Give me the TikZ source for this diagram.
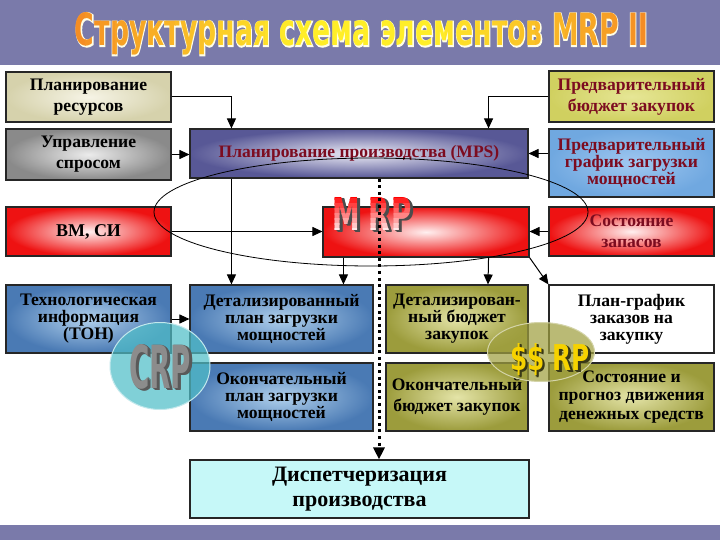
\documentclass[tikz,border=0pt]{standalone}
\usepackage{fontspec}
\setmainfont{Liberation Serif}
\newfontfamily\heavyf{DejaVu Sans}
\newfontfamily\heavyo{DejaVu Sans}[FakeBold=5]
\usetikzlibrary{arrows.meta,calc,shapes.geometric}
\definecolor{band}{RGB}{122,122,170}
\definecolor{dred}{RGB}{124,12,32}
\definecolor{org}{RGB}{244,140,36}
\definecolor{yel}{RGB}{255,238,40}
\definecolor{beigeo}{RGB}{214,210,172}
\definecolor{beigei}{RGB}{246,244,230}
\definecolor{grayo}{RGB}{138,138,138}
\definecolor{grayi}{RGB}{236,236,236}
\definecolor{mpso}{RGB}{88,88,150}
\definecolor{mpsi}{RGB}{236,236,246}
\definecolor{redo}{RGB}{238,18,18}
\definecolor{redi}{RGB}{255,240,240}
\definecolor{yello}{RGB}{208,208,96}
\definecolor{yelli}{RGB}{230,230,150}
\definecolor{blueo}{RGB}{112,168,224}
\definecolor{bluei}{RGB}{160,200,240}
\definecolor{steelo}{RGB}{74,122,180}
\definecolor{steeli}{RGB}{176,208,236}
\definecolor{oliveo}{RGB}{156,156,60}
\definecolor{olivei}{RGB}{228,228,168}
\definecolor{cyanf}{RGB}{198,248,248}
\definecolor{crpf}{RGB}{80,190,200}
\definecolor{ssf}{RGB}{160,160,64}
\definecolor{ssy}{RGB}{246,210,0}
\newcommand\titletxt{\resizebox{573pt}{33pt}{\heavyf\bfseries Структурная схема элементов MRP II}}
\newcommand\mrptxt{\resizebox{79pt}{33pt}{\heavyf\bfseries M\hspace{0.3em}R\hspace{0.05em}P}}
\newcommand\crptxt{\resizebox{62pt}{44pt}{\heavyf\bfseries CRP}}
\newcommand\sstxt{\resizebox{80pt}{27pt}{\heavyf\bfseries \$\$ RP}}
\begin{document}
\begin{tikzpicture}[x=1pt,y=-1pt,
  box/.style={draw=black!85, line width=1.1pt, align=center, inner sep=1pt,
    font=\fontsize{17.6}{17}\selectfont\bfseries},
  two/.style={font=\fontsize{17.6}{21}\selectfont\bfseries},
  rg/.style 2 args={inner color=#1, outer color=#2},
  arr/.style={line width=1pt, -{Triangle[length=10pt,width=9pt]}},
  dotarr/.style={line width=3pt, dash pattern=on 3pt off 3.6pt, -{Triangle[length=12pt,width=11pt]}},
  plain/.style={inner sep=0pt, anchor=base}]
\useasboundingbox (0,0) rectangle (720,540);
\fill[white] (0,0) rectangle (720,540);
\fill[band] (0,0) rectangle (720,65);
\fill[band] (0,525) rectangle (720,540);
% title: light outline, then horizontal orange-yellow-orange gradient
\node[plain, text=white!90!yellow] (titleglow) at (361.5,46) {\resizebox{573pt}{33pt}{\heavyo\bfseries Структурная схема элементов MRP II}};
\foreach \i in {0,...,39}{
  \pgfmathsetmacro\xa{70+15*\i}
  \pgfmathsetmacro\xm{\xa+7.5}
  \pgfmathsetmacro\pc{(\xm<300) ? max(0,(\xm-75)/2.25) : ((\xm<430) ? 100 : max(0,100-(\xm-430)/2.18))}
  \begin{scope}
    \clip (\xa,0) rectangle (\xa+15.4,65);
    \node[plain, text={yel!\pc!org}] (title\i) at (361.5,46) {\titletxt};
  \end{scope}
}
% left column
\node[box, two, rg={beigei}{beigeo}, minimum width=165pt, minimum height=50pt] (res) at (88.5,97) {Планирование\\ресурсов};
\node[box, two, rg={grayi}{grayo}, minimum width=165pt, minimum height=51pt] (dem) at (88.5,154.5) {Управление\\спросом};
\node[box, two, rg={redi}{redo}, minimum width=165pt, minimum height=49pt, font=\fontsize{18}{21}\selectfont\bfseries] (bm) at (88.5,231.5) {ВМ, СИ};
\node[box, rg={steeli}{steelo}, minimum width=165pt, minimum height=68pt] (ton) at (88.5,319) {Технологическая\\информация\\(ТОН)};
% middle
\node[box, rg={mpsi}{mpso}, text=dred, minimum width=338pt, minimum height=49pt, font=\fontsize{17.5}{21}\selectfont\bfseries] (mps) at (359,153.5) {Планирование производства (MPS)};
\node[box, rg={redi}{redo}, minimum width=206pt, minimum height=50pt] (mrp) at (426,232) {};
\node[box, rg={steeli}{steelo}, minimum width=183pt, minimum height=68pt] (dpl) at (281.5,319) {Детализированный\\план загрузки\\мощностей};
\node[box, rg={steeli}{steelo}, minimum width=183pt, minimum height=68pt] (opl) at (281.5,397) {Окончательный\\план загрузки\\мощностей};
\node[box, rg={olivei}{oliveo}, minimum width=142pt, minimum height=68pt] (dbud) at (457,319) {Детализирован-\\ный бюджет\\закупок};
\node[box, two, rg={olivei}{oliveo}, minimum width=142pt, minimum height=68pt] (obud) at (457,397) {Окончательный\\бюджет закупок};
% right column
\node[box, two, rg={yelli}{yello}, text=dred, minimum width=165pt, minimum height=51pt] (pbud) at (631.5,96.5) {Предварительный\\бюджет закупок};
\node[box, rg={bluei}{blueo}, text=dred, minimum width=165pt, minimum height=68pt] (pgr) at (631.5,163) {Предварительный\\график загрузки\\мощностей};
\node[box, two, rg={redi}{redo}, text=dred, minimum width=165pt, minimum height=49pt] (zap) at (631.5,231.5) {Состояние\\запасов};
\node[box, fill=white, minimum width=165pt, minimum height=68pt] (pgz) at (631.5,319) {План-график\\заказов на\\закупку};
\node[box, rg={olivei}{oliveo}, minimum width=165pt, minimum height=68pt, font=\fontsize{17.6}{18.5}\selectfont\bfseries] (cash) at (631.5,397) {Состояние и\\прогноз движения\\денежных средств};
% bottom
\node[box, fill=cyanf, minimum width=339pt, minimum height=58pt, font=\fontsize{22}{25}\selectfont\bfseries] (disp) at (359.5,489) {Диспетчеризация\\производства};
% connectors
\draw[arr] (res.east) -| ($(mps.north west)+(42,0)$);
\draw[arr] (dem.east) -- (dem.east -| mps.west);
\draw[arr] (pbud.west) -| ($(mps.north east)+(-40,0)$);
\draw[arr] (mps.east -| pgr.west) -- (mps.east);
\draw[arr] (bm.east) -- (bm.east -| mrp.west);
\draw[arr] (zap.west) -- (zap.west -| mrp.east);
\draw[arr] ($(mps.south west)+(42,0)$) -- ($(dpl.north west)+(42,0)$);
\draw[arr] ($(mrp.south west)+(21,0)$) -- ($(dpl.north west)+(154,0)$);
\draw[arr] ($(mrp.south east)+(-41,0)$) -- ($(dbud.north)+(31,0)$);
\draw[arr] (mrp.south east) -- (pgz.north west);
\draw[arr] (ton.east) -- (ton.east -| dpl.west);
% ellipse
\draw[line width=0.8pt] (371,212) ellipse [x radius=217pt, y radius=54pt];
% MRP label
\foreach \o in {3,2.2,1.4}
  \node[plain, text=black!70] at (372.5+\o,230+\o*0.8) {\mrptxt};
\foreach \k in {0,...,7}{
  \pgfmathsetmacro\ya{194+5*\k}
  \pgfmathsetmacro\pr{100-13*\k}
  \begin{scope}
    \clip (320,\ya) rectangle (420,\ya+5.3);
    \node[plain, text={red!\pr!white}] (mrpl\k) at (372.5,230) {\mrptxt};
  \end{scope}
}
% dotted arrow
\draw[dotarr] ($(mps.south)+(20,0)$) -- ($(disp.north)+(19.5,0)$);
% CRP
\node[ellipse, draw=white!65!crpf, line width=1pt, fill=crpf, fill opacity=0.72, minimum width=100pt, minimum height=87pt, inner sep=0pt] (crp) at (160,366) {};
\foreach \o in {3,2.4,1.8,1.2}
  \node[plain, text=black!65] at (160+\o,388+\o*0.8) {\crptxt};
\node[plain, text=black!45] (crpl) at (160,388) {\crptxt};
% $$ RP
\node[ellipse, draw=white!55!ssf, line width=1pt, fill=ssf, fill opacity=0.72, minimum width=107pt, minimum height=59pt, inner sep=0pt] (ss) at (541,352) {};
\foreach \o in {2.6,2,1.4}
  \node[plain, text=black!65!ssf] at (550+\o,370+\o*0.8) {\sstxt};
\node[plain, text=ssy] (ssl) at (550,370) {\sstxt};
\end{tikzpicture}
\end{document}
